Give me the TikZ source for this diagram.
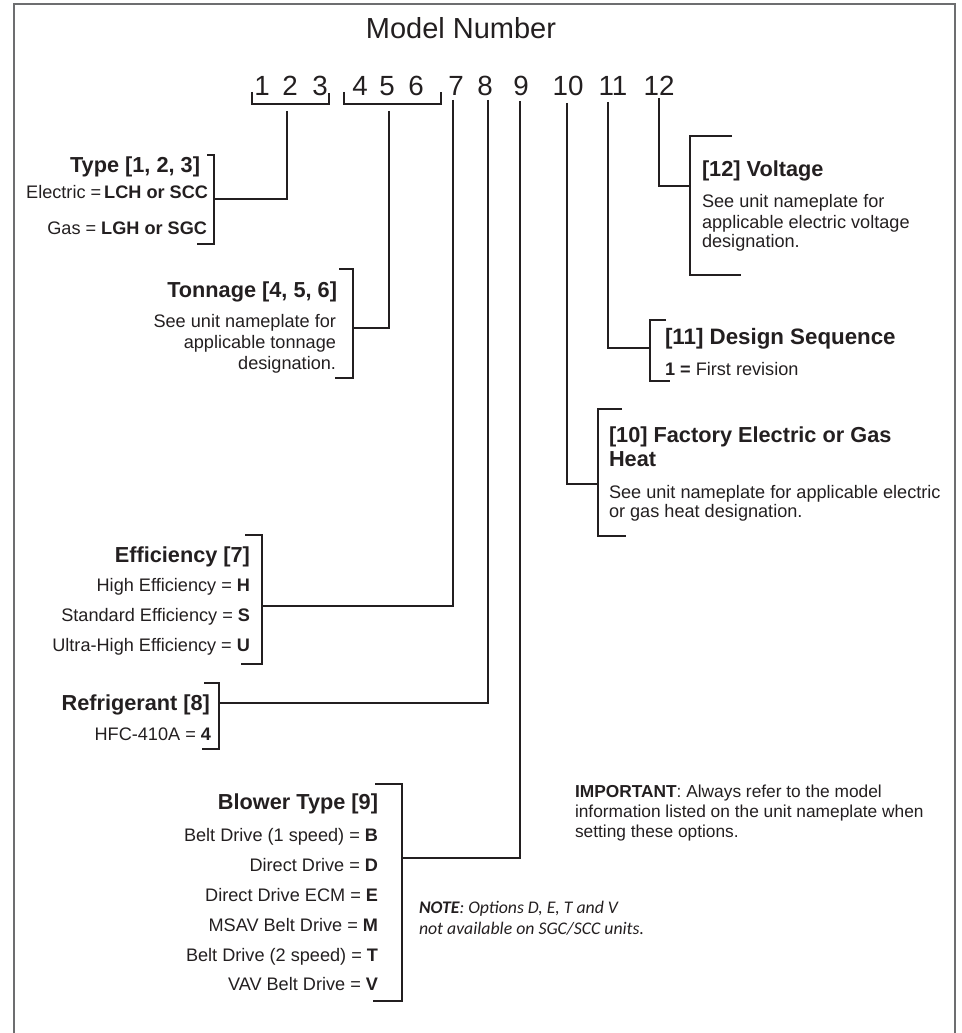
\documentclass[tikz,border=0pt]{standalone}
\usepackage{fontspec}
\setmainfont{Liberation Sans}
\newfontfamily\notefont{Carlito}
\definecolor{ink}{HTML}{231F20}
\definecolor{framec}{HTML}{6D6E70}
\tikzset{
  ln/.style={draw=ink, line width=0.8pt},
  framel/.style={draw=framec, line width=0.9pt},
  txt/.style={inner sep=0pt, outer sep=0pt, text=ink},
  hd/.style={txt, font=\fontsize{12.36}{14}\selectfont\bfseries},
  hdb/.style={txt, font=\fontsize{12.7}{15}\selectfont\bfseries},
  bd/.style={txt, font=\fontsize{10.32}{12}\selectfont},
  imp/.style={txt, font=\fontsize{9.86}{12}\selectfont},
  nt/.style={txt, font=\notefont\fontsize{10.1}{12}\selectfont\itshape},
  dg/.style={txt, anchor=base, font=\fontsize{15.8}{18}\selectfont},
  ttl/.style={txt, anchor=base, font=\fontsize{16.5}{19}\selectfont},
  bE/.style={anchor=base east},
  bW/.style={anchor=base west}
}
\begin{document}
\begin{tikzpicture}[x=0.02cm,y=-0.02cm]
\useasboundingbox (0,0) rectangle (961,1033);
% frame (bottom edge lies outside the picture)
\coordinate (fbl) at (14,1045);
\coordinate (ftl) at (14,4);
\coordinate (ftr) at (955,4);
\coordinate (fbr) at (955,1045);
\draw[framel] (fbl) -- (ftl) -- (ftr) -- (fbr);

% title and digits
\node[ttl] (title) at (461,39) {Model Number};
\node[dg] (d1) at (262,96) {1};
\node[dg] (d2) at (290,96) {2};
\node[dg] (d3) at (320,96) {3};
\node[dg] (d4) at (360,96) {4};
\node[dg] (d5) at (387,96) {5};
\node[dg] (d6) at (416,96) {6};
\node[dg] (d7) at (456,96) {7};
\node[dg] (d8) at (485,96) {8};
\node[dg] (d9) at (521,96) {9};
\node[dg] (d10) at (568,96) {10};
\node[dg] (d11) at (613,96) {11};
\node[dg] (d12) at (659,96) {12};

% digit group brackets
\draw[ln] (252,92) -- (252,104) -- (329,104) -- (329,93);
\draw[ln] (344,92) -- (344,104) -- (441,104) -- (441,92);

% connector start points
\coordinate (s123) at (287,111);
\coordinate (s456) at (389,111);
\coordinate (s7) at (453,100);
\coordinate (s8) at (488,100);
\coordinate (s9) at (520,101);
\coordinate (s10) at (567,103);
\coordinate (s11) at (608,102);
\coordinate (s12) at (659,98);

% bracket attachment points
\coordinate (aType) at (214,199);
\coordinate (aTon) at (353,328);
\coordinate (aEff) at (262,606);
\coordinate (aRef) at (219,703);
\coordinate (aBlo) at (402,858);
\coordinate (aFac) at (598,484);
\coordinate (aDes) at (650,348);
\coordinate (aVol) at (690,186);

% connectors
\draw[ln] (s123) |- (aType);
\draw[ln] (s456) |- (aTon);
\draw[ln] (s7) |- (aEff);
\draw[ln] (s8) |- (aRef);
\draw[ln] (s9) |- (aBlo);
\draw[ln] (s10) |- (aFac);
\draw[ln] (s11) |- (aDes);
\draw[ln] (s12) |- (aVol);

% brackets
\draw[ln] (207,155) -- (214,155) -- (214,244) -- (197,244);
\draw[ln] (339,269) -- (353,269) -- (353,378) -- (335,378);
\draw[ln] (245,535) -- (262,535) -- (262,664) -- (241,664);
\draw[ln] (204,683) -- (219,683) -- (219,749) -- (202,749);
\draw[ln] (375,784) -- (402,784) -- (402,1001) -- (373,1001);
\draw[ln] (732,136) -- (690,136) -- (690,275) -- (741,275);
\draw[ln] (666,320) -- (650,320) -- (650,381) -- (670,381);
\draw[ln] (622,409) -- (598,409) -- (598,536) -- (626,536);

% Type
\node[hd,bE] (typeh) at (200,173) {Type [1, 2, 3]};
\node[bd,bE] (type1) at (208,199) {Electric =\,\textbf{LCH or SCC}};
\node[bd,bE] (type2) at (207,235) {Gas = \textbf{LGH or SGC}};

% Tonnage
\node[hd,bE] (tonh) at (337,298) {Tonnage [4, 5, 6]};
\node[bd,bE] (ton1) at (336,328) {See unit nameplate for};
\node[bd,bE] (ton2) at (336,349) {applicable tonnage};
\node[bd,bE] (ton3) at (336,369) {designation.};

% Efficiency
\node[hd,bE] (effh) at (250,562) {Efficiency [7]};
\node[bd,bE] (eff1) at (250,591) {High Efficiency = \textbf{H}};
\node[bd,bE] (eff2) at (250,621) {Standard Efficiency = \textbf{S}};
\node[bd,bE] (eff3) at (250,651) {Ultra-High Efficiency = \textbf{U}};

% Refrigerant
\node[hd,bE] (refh) at (210,710) {Refrigerant [8]};
\node[bd,bE] (ref1) at (211,740) {HFC-410A = \textbf{4}};

% Blower
\node[hd,bE] (bloh) at (378,809) {Blower Type [9]};
\node[bd,bE] (blo1) at (378,841) {Belt Drive (1 speed) = \textbf{B}};
\node[bd,bE] (blo2) at (378,871) {Direct Drive = \textbf{D}};
\node[bd,bE] (blo3) at (378,901) {Direct Drive ECM = \textbf{E}};
\node[bd,bE] (blo4) at (378,931) {MSAV Belt Drive = \textbf{M}};
\node[bd,bE] (blo5) at (378,961) {Belt Drive (2 speed) = \textbf{T}};
\node[bd,bE] (blo6) at (378,990) {VAV Belt Drive = \textbf{V}};

% Voltage
\node[hd,bW] (volh) at (702,177) {[12] Voltage};
\node[bd,bW] (vol1) at (702,208) {See unit nameplate for};
\node[bd,bW] (vol2) at (702,229) {applicable electric voltage};
\node[bd,bW] (vol3) at (702,248) {designation.};

% Design sequence
\node[hdb,bW] (desh) at (665,345) {[11] Design Sequence};
\node[bd,bW] (des1) at (665,376) {\textbf{1 =} First revision};

% Factory heat
\node[hd,bW] (fach) at (609,442) {[10] Factory Electric or Gas};
\node[hd,bW] (fach2) at (609,466) {Heat};
\node[bd,bW] (fac1) at (609,498) {See unit nameplate for applicable electric};
\node[bd,bW] (fac2) at (609,517) {or gas heat designation.};

% Important
\node[imp,bW] (imp1) at (575,797) {\textbf{IMPORTANT}: Always refer to the model};
\node[imp,bW] (imp2) at (575,817) {information listed on the unit nameplate when};
\node[imp,bW] (imp3) at (575,837) {setting these options.};

% Note
\node[nt,bW] (note1) at (419,913) {\textbf{NOTE}: Options D, E, T and V};
\node[nt,bW] (note2) at (419,934) {not available on SGC/SCC units.};
\end{tikzpicture}
\end{document}
